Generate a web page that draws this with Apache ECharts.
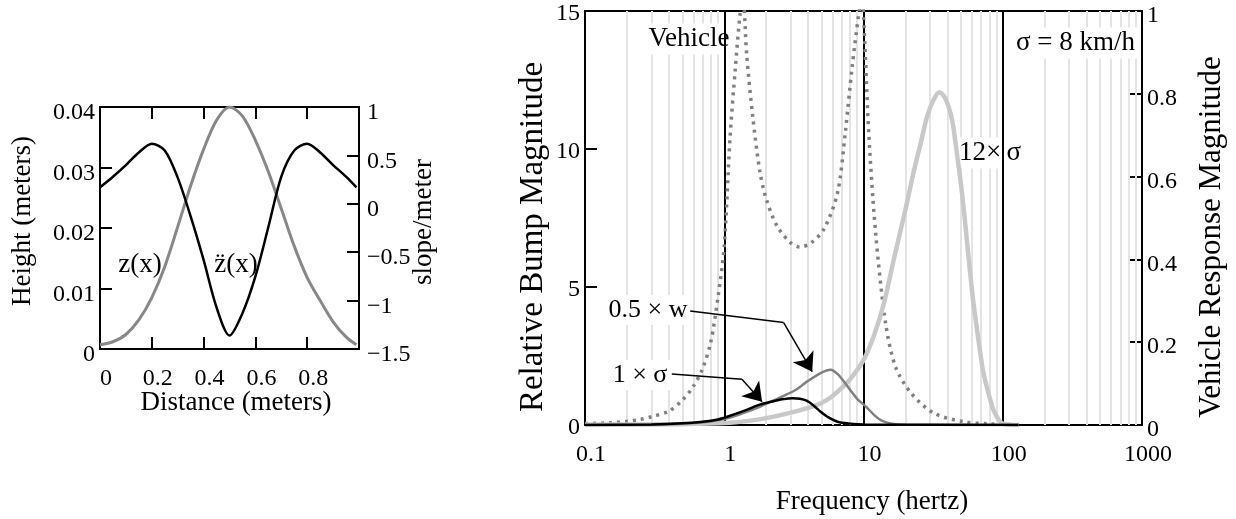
<!DOCTYPE html>
<html lang="en">
<head>
<meta charset="UTF-8">
<title>Bump profile and spectrum</title>
<script src="https://cdn.jsdelivr.net/npm/echarts/dist/echarts.min.js"></script>
<style>
    html, body {
        margin: 0;
        padding: 0;
        background: #fff;
    }

    #chart {
        width: 1236px;
        height: 519px;
    }
</style>
</head>
<body>
<div id="chart"></div>
<script type="text/javascript">
    // left panel: bump profile over distance
    var distX = [0, 0.05, 0.1, 0.15, 0.2, 0.25, 0.3, 0.35, 0.4, 0.45, 0.5, 0.55, 0.6, 0.65, 0.7, 0.75, 0.8, 0.85, 0.9, 0.95, 0.99];
    var heightZ = [0.0007, 0.0012, 0.0024, 0.0048, 0.0085, 0.0136, 0.0202, 0.027, 0.033, 0.0378, 0.04, 0.0385, 0.0345, 0.0293, 0.0232, 0.017, 0.0118, 0.008, 0.0045, 0.002, 0.0007];
    var slopeZ = [0.17, 0.28, 0.4, 0.53, 0.62, 0.55, 0.27, -0.13, -0.58, -1.07, -1.36, -1.13, -0.75, -0.24, 0.28, 0.55, 0.62, 0.53, 0.4, 0.28, 0.17];

    // right panel: frequency content (left axis units)
    var vehFreq = [0.1, 0.15, 0.2, 0.25, 0.3, 0.4, 0.5, 0.6, 0.7, 0.8, 0.9, 1.0, 1.1, 1.2, 1.3, 1.36, 1.45, 1.6, 1.8, 2.0, 2.4, 3.0, 3.5, 4.2, 5.2, 6.5, 7.4, 8.3, 9.3, 9.7, 10.1, 10.9, 12.2, 14.4, 17, 22, 32, 52, 80, 130];
    var vehResp = [0.05, 0.08, 0.13, 0.2, 0.3, 0.5, 0.9, 1.4, 2.05, 3.0, 4.6, 6.5, 10.4, 12.9, 14.9, 15.5, 13.4, 11.2, 9.2, 8.2, 7.2, 6.6, 6.45, 6.6, 7.1, 8.4, 10.6, 13.0, 15.0, 15.6, 14.4, 10.6, 7.0, 3.7, 2.1, 1.15, 0.43, 0.12, 0.04, 0.01];

    var wideFreq = [0.1, 0.3, 0.5, 1, 1.5, 2, 3, 4, 5, 6, 7, 8, 10, 12, 14, 16.5, 20, 23, 26, 28.7, 32, 35, 38, 41, 43.5, 47, 51, 54, 57, 61, 66, 72, 78, 85, 92, 100, 130];
    var wideResp = [0.01, 0.02, 0.03, 0.07, 0.15, 0.25, 0.45, 0.62, 0.8, 1.05, 1.35, 1.65, 2.35, 3.3, 4.4, 6.0, 7.8, 9.2, 10.3, 11.2, 11.8, 12.05, 11.9, 11.5, 11.0, 9.8, 8.4, 7.2, 6.0, 4.6, 3.3, 2.0, 1.25, 0.6, 0.25, 0.05, 0];

    var halfFreq = [0.1, 0.3, 0.6, 1, 1.4, 1.8, 2.4, 3.2, 4, 5, 5.8, 6.5, 7.3, 8, 9, 10.5, 12, 13.5, 16, 20, 130];
    var halfResp = [0, 0.01, 0.07, 0.22, 0.45, 0.66, 0.95, 1.25, 1.6, 1.9, 2.0, 1.85, 1.55, 1.28, 0.95, 0.65, 0.35, 0.16, 0.05, 0.01, 0];

    var oneFreq = [0.1, 0.3, 0.5, 0.7, 0.9, 1.05, 1.4, 1.8, 2.2, 2.6, 3.1, 3.5, 3.9, 4.4, 5, 5.5, 6.5, 8, 10, 130];
    var oneResp = [0, 0.02, 0.06, 0.12, 0.2, 0.3, 0.52, 0.74, 0.85, 0.93, 0.97, 0.95, 0.88, 0.7, 0.45, 0.3, 0.12, 0.05, 0.02, 0];

    // grid lines of the log axis
    var majorFreq = [1, 10, 100];
    var minorFreq = [0.2, 0.3, 0.4, 0.5, 0.6, 0.7, 0.8, 0.9, 2, 3, 4, 5, 6, 7, 8, 9, 20, 30, 40, 50, 60, 70, 80, 90, 200, 300, 400, 500, 600, 700, 800, 900];

    // annotation leader lines (frequency, magnitude): label -> bend, bend -> arrow tip
    var leadHalf = [[0.569, 4.13], [2.67, 3.71]];
    var tipHalf = [[2.67, 3.71], [4.28, 1.93]];
    var leadOne = [[0.42, 1.85], [1.34, 1.66]];
    var tipOne = [[1.34, 1.66], [1.87, 0.84]];

    var serif = '"Liberation Serif", "Times New Roman", serif';
    var chart = echarts.init(document.getElementById('chart'));

    function pairs(xs, ys) {
        return xs.map(function (x, i) {
            return [x, ys[i]];
        });
    }

    function vline(v) {
        return {xAxis: v};
    }

    function minus(v) {
        return v < 0 ? '\u2212' + Math.abs(v) : String(v);
    }

    function txt(text, x, y, size, opts) {
        opts = opts || {};
        var style = {
            text: text,
            font: size + 'px ' + serif,
            fill: '#000',
            align: opts.align || 'center',
            verticalAlign: 'middle'
        };
        if (opts.bg) {
            style.backgroundColor = '#fff';
            style.padding = [2, 3, 2, 3];
        }
        return {type: 'text', x: x, y: y, z: 3, rotation: opts.rot || 0, style: style};
    }

    var axisLine = {onZero: false, lineStyle: {color: '#000', width: 2}};
    var tickIn = {inside: true, length: 12, lineStyle: {color: '#000', width: 2}};
    var tickLabel = {fontSize: 24, color: '#000', fontFamily: serif};

    chart.setOption({
        animation: false,
        textStyle: {fontFamily: serif},
        grid: [
            {left: 100, top: 107, width: 259, height: 242, show: true, borderColor: '#000', borderWidth: 2},
            {left: 585, top: 11, width: 557, height: 414, show: true, borderColor: '#000', borderWidth: 2}
        ],
        xAxis: [
            {
                gridIndex: 0, type: 'value', min: 0, max: 1, interval: 0.2, position: 'bottom',
                axisLine: axisLine, axisTick: tickIn, splitLine: {show: false},
                axisLabel: Object.assign({}, tickLabel, {
                    margin: 18, padding: [0, 0, 0, 12],
                    formatter: function (v) { return v >= 1 ? '' : String(v); }
                })
            },
            {
                gridIndex: 0, type: 'value', min: 0, max: 1, interval: 0.2, position: 'top',
                axisLine: axisLine, axisTick: tickIn, splitLine: {show: false},
                axisLabel: {show: false}
            },
            {
                gridIndex: 1, type: 'log', logBase: 10, min: 0.1, max: 1000, position: 'bottom',
                axisLine: axisLine, axisTick: {show: false}, splitLine: {show: false},
                axisLabel: Object.assign({}, tickLabel, {
                    margin: 18, padding: [0, 0, 0, 12],
                    formatter: function (v) { return String(v); }
                })
            }
        ],
        yAxis: [
            {
                gridIndex: 0, type: 'value', min: 0, max: 0.04, interval: 0.01, position: 'left',
                axisLine: axisLine, axisTick: tickIn, splitLine: {show: false},
                axisLabel: Object.assign({}, tickLabel, {margin: 5, verticalAlign: 'top', lineHeight: 12})
            },
            {
                gridIndex: 0, type: 'value', min: -1.5, max: 1, interval: 0.5, position: 'right',
                axisLine: axisLine, axisTick: tickIn, splitLine: {show: false},
                axisLabel: Object.assign({}, tickLabel, {margin: 8, verticalAlign: 'top', lineHeight: 12, formatter: minus})
            },
            {
                gridIndex: 1, type: 'value', min: 0, max: 15, interval: 5, position: 'left',
                axisLine: axisLine, axisTick: tickIn, splitLine: {show: false},
                axisLabel: Object.assign({}, tickLabel, {margin: 5, verticalAlign: 'top', lineHeight: 6})
            },
            {
                gridIndex: 1, type: 'value', min: 0, max: 1, interval: 0.2, position: 'right',
                axisLine: axisLine, axisTick: tickIn, splitLine: {show: false},
                axisLabel: Object.assign({}, tickLabel, {margin: 5, verticalAlign: 'top', lineHeight: 10})
            }
        ],
        graphic: {
            elements: [
                txt('Height (meters)', 23, 221, 27, {rot: Math.PI / 2}),
                txt('slope/meter', 424, 222, 27, {rot: Math.PI / 2}),
                txt('Distance (meters)', 236, 403, 27),
                txt('z(x)', 140, 265, 27),
                txt('z\u0308(x)', 236, 265, 27),
                txt('Relative Bump Magnitude', 533, 237, 33, {rot: Math.PI / 2}),
                txt('Vehicle Response Magnitude', 1212, 237, 31, {rot: Math.PI / 2}),
                txt('Frequency (hertz)', 872, 502, 27),
                txt('Vehicle', 689, 39, 27, {bg: true}),
                txt('\u03c3 = 8 km/h', 1138, 43, 27, {bg: true, align: 'right'}),
                txt('12\u00d7\u2009\u03c3', 990, 153, 27, {bg: true}),
                txt('0.5 \u00d7 w', 648, 310, 26, {bg: true}),
                txt('1 \u00d7 \u03c3', 640, 375, 26, {bg: true})
            ]
        },
        series: [
            {
                name: 'z(x)', type: 'line', xAxisIndex: 0, yAxisIndex: 0,
                data: pairs(distX, heightZ), smooth: 0.3, showSymbol: false, z: 5,
                lineStyle: {color: '#888', width: 3}
            },
            {
                name: 'slope', type: 'line', xAxisIndex: 0, yAxisIndex: 1,
                data: pairs(distX, slopeZ), smooth: 0.3, showSymbol: false, z: 6,
                lineStyle: {color: '#000', width: 2.5}
            },
            {
                name: 'minor', type: 'line', xAxisIndex: 2, yAxisIndex: 2, data: [], z: 1, silent: true,
                markLine: {
                    silent: true, symbol: 'none', label: {show: false}, z: 1,
                    lineStyle: {color: '#e4e4e4', width: 2, type: 'solid'},
                    data: minorFreq.map(vline)
                }
            },
            {
                name: 'major', type: 'line', xAxisIndex: 2, yAxisIndex: 2, data: [], z: 4, silent: true,
                markLine: {
                    silent: true, symbol: 'none', label: {show: false}, z: 4,
                    lineStyle: {color: '#000', width: 2, type: 'solid'},
                    data: majorFreq.map(vline)
                }
            },
            {
                name: 'Vehicle', type: 'line', xAxisIndex: 2, yAxisIndex: 2,
                data: pairs(vehFreq, vehResp), smooth: 0.3, showSymbol: false, z: 5,
                lineStyle: {color: '#808080', width: 3.5, type: [3, 5], cap: 'butt'}
            },
            {
                name: '12 sigma', type: 'line', xAxisIndex: 2, yAxisIndex: 2,
                data: pairs(wideFreq, wideResp), smooth: 0.3, showSymbol: false, z: 5,
                lineStyle: {color: '#c8c8c8', width: 4.5}
            },
            {
                name: '0.5 w', type: 'line', xAxisIndex: 2, yAxisIndex: 2,
                data: pairs(halfFreq, halfResp), smooth: 0.3, showSymbol: false, z: 6,
                lineStyle: {color: '#808080', width: 2.5}
            },
            {
                name: '1 sigma', type: 'line', xAxisIndex: 2, yAxisIndex: 2,
                data: pairs(oneFreq, oneResp), smooth: 0.3, showSymbol: false, z: 7,
                lineStyle: {color: '#000', width: 2.5}
            },
            {
                name: 'leaders', type: 'lines', coordinateSystem: 'cartesian2d', xAxisIndex: 2, yAxisIndex: 2,
                symbol: 'none', z: 8, silent: true,
                lineStyle: {color: '#000', width: 1.5, opacity: 1},
                data: [{coords: leadHalf}, {coords: leadOne}]
            },
            {
                name: 'arrows', type: 'lines', coordinateSystem: 'cartesian2d', xAxisIndex: 2, yAxisIndex: 2,
                symbol: ['none', 'arrow'], symbolSize: 18, z: 8, silent: true,
                lineStyle: {color: '#000', width: 1.5, opacity: 1},
                data: [{coords: tipHalf}, {coords: tipOne}]
            }
        ]
    });
</script>
</body>
</html>
